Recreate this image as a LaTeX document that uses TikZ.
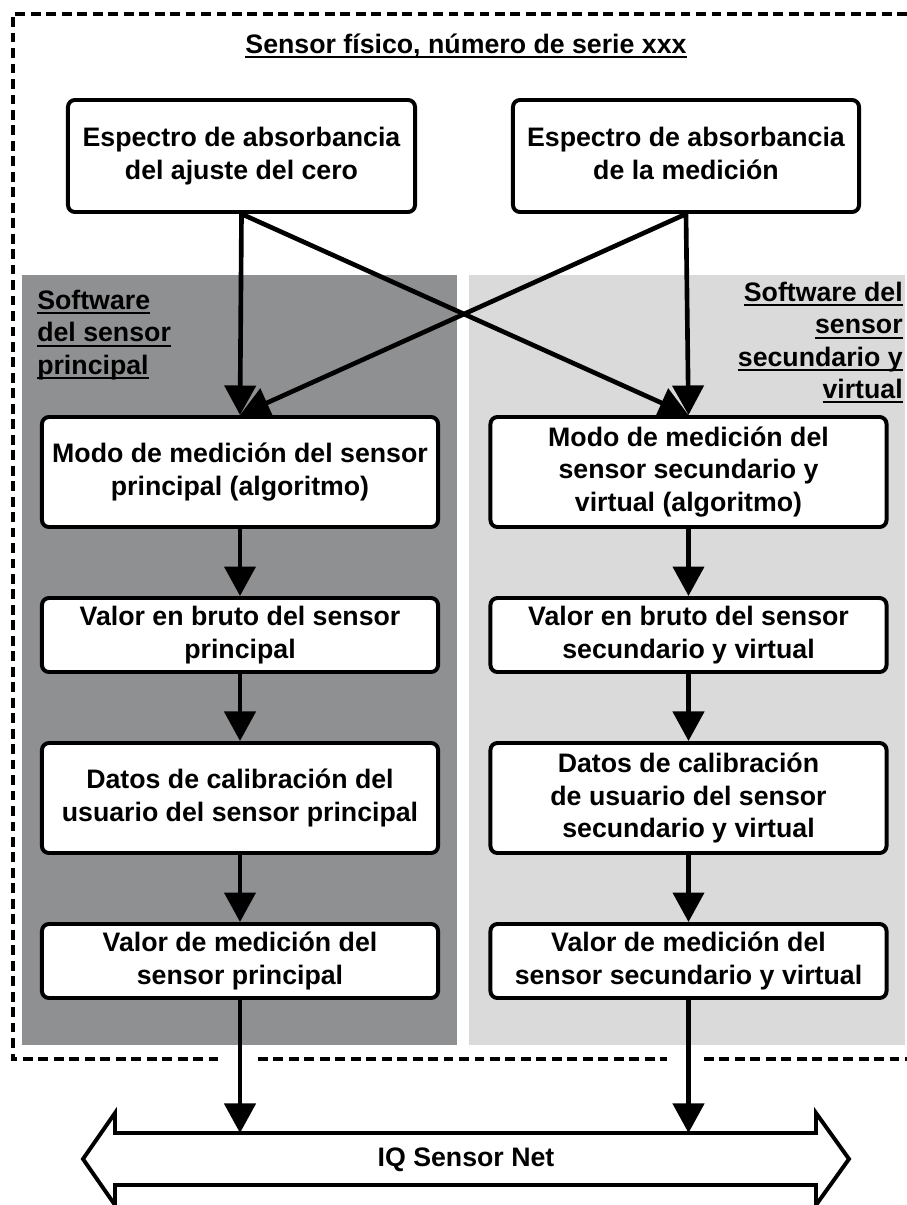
\documentclass[tikz,border=0pt]{standalone}
\usepackage{fontspec}
\setmainfont{Liberation Sans}
\usetikzlibrary{arrows.meta}

\definecolor{darkpanel}{RGB}{143,144,146}
\definecolor{lightpanel}{RGB}{218,218,218}
\newcommand{\ulin}[1]{\sbox0{#1}\rlap{\rule[-3.3pt]{\wd0}{1.4pt}}\usebox0}

\tikzset{
  box/.style={draw, line width=2.8pt, rounded corners=5pt, fill=white, align=center,
    inner sep=2pt, font=\bfseries\fontsize{19}{23}\selectfont},
  colbox/.style={box, minimum width=9.9cm},
  lbl/.style={inner sep=0pt, font=\bfseries\fontsize{19}{23}\selectfont},
  arr/.style={line width=3.3pt, -{Triangle[length=21pt,width=22pt]}},
  frame/.style={line width=3.3pt, dash pattern=on 7pt off 4pt},
}

\begin{document}
\begin{tikzpicture}[x=0.025cm, y=-0.025cm]
  \useasboundingbox (0,0) rectangle (907,1205);
  \fill[darkpanel] (22,275) rectangle (457,1045);
  \fill[lightpanel] (469,275) rectangle (905,1045);

  \draw[frame] (907,14) -- (13,14) -- (13,1059) -- (223,1059);
  \draw[frame] (258,1059) -- (667,1059);
  \draw[frame] (704,1059) -- (907,1059);

  \node[lbl, anchor=base] (title) at (466,53) {\ulin{Sensor físico, número de serie xxx}};
  \node[lbl, anchor=north west, align=left] (swL) at (37,290)
    {\ulin{Software}\\\ulin{del sensor}\\\ulin{principal}};
  \node[lbl, anchor=north east, align=right] (swR) at (903,282)
    {\ulin{Software del}\\\ulin{sensor}\\\ulin{secundario y}\\\ulin{virtual}};

  \node[box, minimum width=8.675cm, minimum height=2.8cm] (zeroL) at (241.5,156)
    {Espectro de absorbancia\\del ajuste del cero};
  \node[box, minimum width=8.65cm, minimum height=2.8cm] (measR) at (686,156)
    {Espectro de absorbancia\\de la medición\vphantom{p}};

  \node[colbox, minimum height=2.75cm] (modeL) at (240,472)
    {Modo de medición del sensor\\principal (algoritmo)};
  \node[colbox, minimum height=1.85cm] (rawL) at (240,635)
    {Valor en bruto del sensor\\principal};
  \node[colbox, minimum height=2.75cm] (calL) at (240,798)
    {Datos de calibración del\\usuario del sensor principal};
  \node[colbox, minimum height=1.85cm] (valL) at (240,961)
    {Valor de medición del\\sensor principal};

  \node[colbox, minimum height=2.75cm] (modeR) at (688.5,472)
    {Modo de medición del\\sensor secundario y\\virtual (algoritmo)};
  \node[colbox, minimum height=1.85cm] (rawR) at (688.5,635)
    {Valor en bruto del sensor\\secundario y virtual};
  \node[colbox, minimum height=2.75cm] (calR) at (688.5,798)
    {Datos de calibración\\de usuario del sensor\\secundario y virtual};
  \node[colbox, minimum height=1.85cm] (valR) at (688.5,961)
    {Valor de medición del\\sensor secundario y virtual};

  \draw[arr] (zeroL.south) -- (modeL.north);
  \draw[arr] (zeroL.south) -- (modeR.north);
  \draw[arr] (measR.south) -- (modeR.north);
  \draw[arr] (measR.south) -- (modeL.north);

  \foreach \a/\b in {modeL/rawL, rawL/calL, calL/valL, modeR/rawR, rawR/calR, calR/valR} {
      \draw[arr] (\a.south) -- (\b.north);
  }

  \draw[line width=2.8pt, fill=white] (83,1159) -- (115,1113) -- (115,1133) -- (816,1133)
    -- (816,1113) -- (849,1159) -- (816,1205) -- (816,1185) -- (115,1185) -- (115,1205) -- cycle;
  \node[lbl] (bus) at (466,1160) {IQ Sensor Net};
  \coordinate (busL) at (240,1133);
  \coordinate (busR) at (688.5,1133);

  \draw[arr] (valL.south) -- (busL);
  \draw[arr] (valR.south) -- (busR);
\end{tikzpicture}
\end{document}
